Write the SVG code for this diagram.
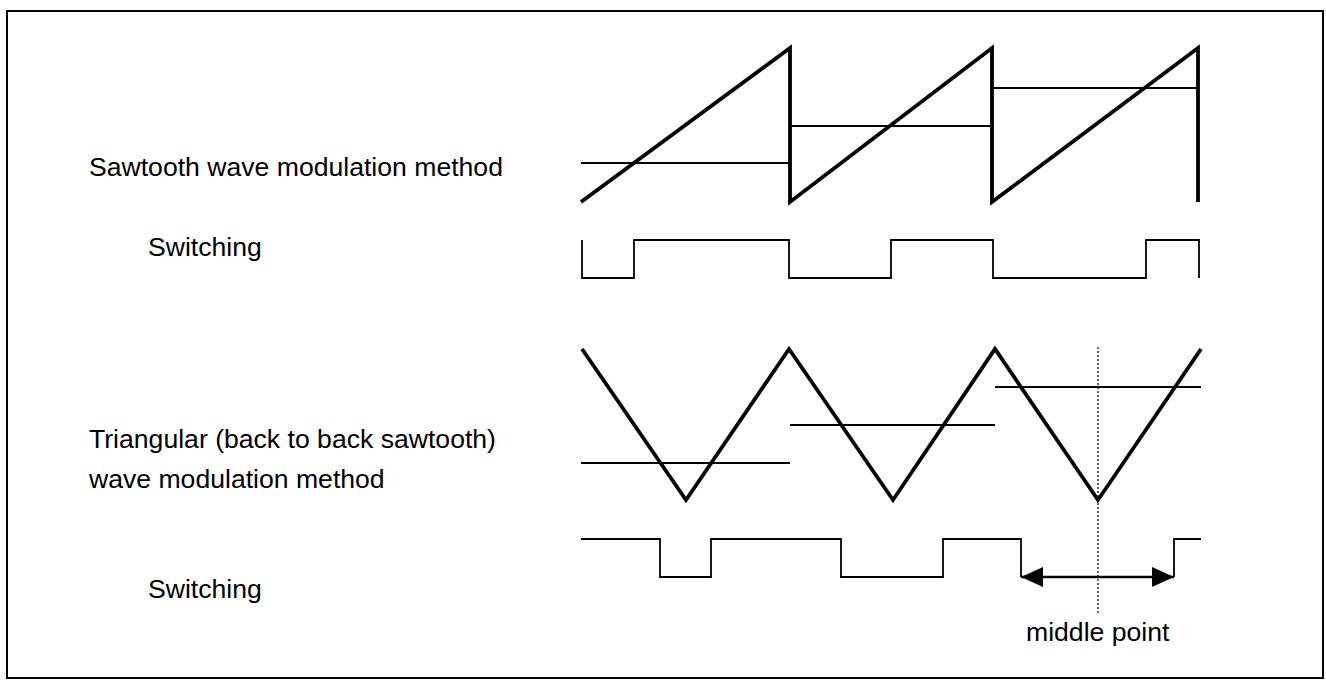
<svg xmlns="http://www.w3.org/2000/svg" width="1326" height="680" viewBox="0 0 1326 680">
<style>
.lbl{font-family:"Liberation Sans",Arial,sans-serif;font-size:26.6px;fill:#000}
.wave{fill:none;stroke:#000;stroke-width:3.8;stroke-linejoin:miter}
.ref{fill:none;stroke:#000;stroke-width:1.8}
.sw{fill:none;stroke:#000;stroke-width:1.8}
.dot{fill:none;stroke:#000;stroke-width:1.2;stroke-dasharray:2,2}
.arr{fill:none;stroke:#000;stroke-width:2.4}
</style>
<defs>
<marker id="ah" viewBox="0 0 22 20" refX="22" refY="10" markerWidth="22" markerHeight="20" markerUnits="userSpaceOnUse" orient="auto-start-reverse">
<path d="M0,0 L22,10 L0,20 Z" fill="#000"/>
</marker>
</defs>
<rect x="7" y="11" width="1316" height="667" fill="#fff" stroke="#000" stroke-width="2"/>
<g id="labels">
<text class="lbl" x="89" y="176">Sawtooth wave modulation method</text>
<text class="lbl" x="148" y="256">Switching</text>
<text class="lbl" x="89" y="448">Triangular (back to back sawtooth)</text>
<text class="lbl" x="89" y="488">wave modulation method</text>
<text class="lbl" x="148" y="598">Switching</text>
<text class="lbl" x="1026" y="641">middle point</text>
</g>
<g id="sawtooth">
<path class="wave" d="M581,202 L790,48 V202 L992,48 V202 L1198,48 V202"/>
<path class="ref" d="M581,163 H790 M790,126 H992 M992,88 H1198"/>
</g>
<g id="switching1">
<path class="sw" d="M582,240 V278 H634 V240 H789 V278 H891 V240 H993 V278 H1146 V240 H1199 V278"/>
</g>
<g id="triangle">
<path class="wave" d="M582,349 L686,500 L789,349 L893,500 L995,349 L1098,500 L1201,349"/>
<path class="ref" d="M581,463 H790 M790,425 H995 M995,387 H1201"/>
</g>
<g id="switching2">
<path class="sw" d="M581,539 H660 V577 H711 V539 H841 V577 H943 V539 H1021 V577 M1174,577 V539 H1201"/>
</g>
<g id="connectors">
<line class="dot" x1="1098" y1="347" x2="1098" y2="613"/>
<line class="arr" x1="1021" y1="577" x2="1174" y2="577" marker-start="url(#ah)" marker-end="url(#ah)"/>
</g>
</svg>
